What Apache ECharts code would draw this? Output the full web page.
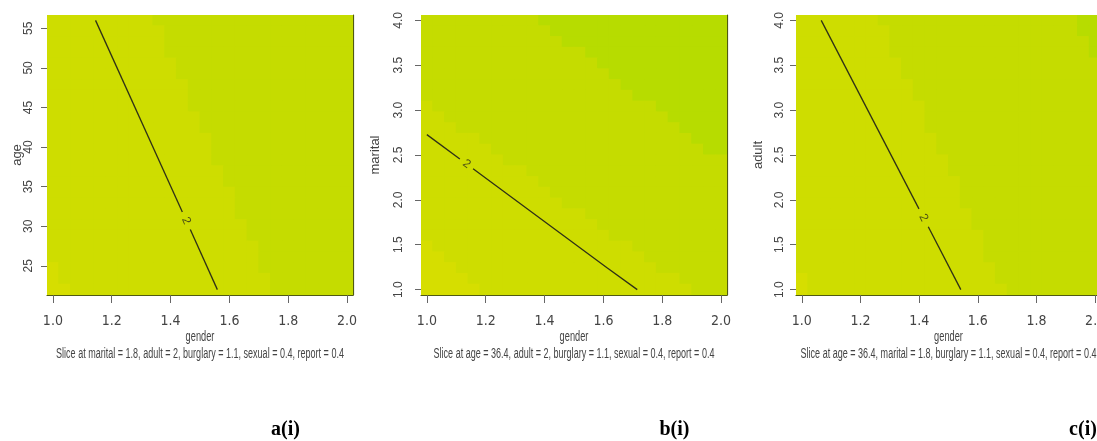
<!DOCTYPE html>
<html>
<head>
<meta charset="utf-8">
<script src="https://cdn.jsdelivr.net/npm/echarts@6/dist/echarts.min.js"></script>
<style>
  html, body { margin: 0; padding: 0; background: #ffffff; }
  #chart { width: 1097px; height: 441px; }
</style>
</head>
<body>
<div id="chart"></div>
<script>
// ---- tick labels ----
const genderTicks  = [1.0, 1.2, 1.4, 1.6, 1.8, 2.0];
const ageTicks     = [25, 30, 35, 40, 45, 50, 55];
const maritalTicks = [1.0, 1.5, 2.0, 2.5, 3.0, 3.5, 4.0];
const adultTicks   = [1.0, 1.5, 2.0, 2.5, 3.0, 3.5, 4.0];

// ---- evaluation grid (cell centres) ----
const genderGrid  = [1.00, 1.04, 1.08, 1.12, 1.16, 1.20, 1.24, 1.28, 1.32, 1.36, 1.40, 1.44, 1.48,
                     1.52, 1.56, 1.60, 1.64, 1.68, 1.72, 1.76, 1.80, 1.84, 1.88, 1.92, 1.96, 2.00];
const ageGrid     = [22, 23.36, 24.72, 26.08, 27.44, 28.8, 30.16, 31.52, 32.88, 34.24, 35.6, 36.96, 38.32,
                     39.68, 41.04, 42.4, 43.76, 45.12, 46.48, 47.84, 49.2, 50.56, 51.92, 53.28, 54.64, 56];
const maritalGrid = [1, 1.12, 1.24, 1.36, 1.48, 1.6, 1.72, 1.84, 1.96, 2.08, 2.2, 2.32, 2.44,
                     2.56, 2.68, 2.8, 2.92, 3.04, 3.16, 3.28, 3.4, 3.52, 3.64, 3.76, 3.88, 4];
const adultGrid   = [1, 1.12, 1.24, 1.36, 1.48, 1.6, 1.72, 1.84, 1.96, 2.08, 2.2, 2.32, 2.44,
                     2.56, 2.68, 2.8, 2.92, 3.04, 3.16, 3.28, 3.4, 3.52, 3.64, 3.76, 3.88, 4];

// ---- predicted-response colour bands, one row per grid line (top row first).
// Each row lists how many cells fall in band 0,1,2,3 going left to right. ----
const ageBands = [
  [0, 9, 17, 0], [0, 10, 16, 0], [0, 10, 16, 0], [0, 10, 16, 0], [0, 11, 15, 0], [0, 11, 15, 0],
  [0, 12, 14, 0], [0, 12, 14, 0], [0, 12, 14, 0], [0, 13, 13, 0], [0, 13, 13, 0], [0, 14, 12, 0],
  [0, 14, 12, 0], [0, 14, 12, 0], [0, 15, 11, 0], [0, 15, 11, 0], [0, 16, 10, 0], [0, 16, 10, 0],
  [0, 16, 10, 0], [0, 17, 9, 0], [0, 17, 9, 0], [0, 18, 8, 0], [0, 18, 8, 0], [1, 17, 8, 0],
  [1, 18, 7, 0], [2, 17, 7, 0]
];
const maritalBands = [
  [0, 0, 10, 16], [0, 0, 11, 15], [0, 0, 12, 14], [0, 0, 14, 12], [0, 0, 15, 11], [0, 0, 16, 10],
  [0, 0, 17, 9], [0, 0, 18, 8], [0, 1, 19, 6], [0, 2, 19, 5], [0, 3, 19, 4], [0, 5, 18, 3],
  [0, 6, 18, 2], [0, 7, 19, 0], [0, 9, 17, 0], [0, 10, 16, 0], [0, 11, 15, 0], [0, 12, 14, 0],
  [0, 14, 12, 0], [0, 15, 11, 0], [0, 16, 10, 0], [1, 17, 8, 0], [2, 17, 7, 0], [3, 17, 6, 0],
  [4, 18, 4, 0], [5, 18, 3, 0]
];
const adultBands = [
  [0, 7, 17, 2], [0, 8, 16, 2], [0, 8, 17, 1], [0, 8, 17, 1], [0, 9, 17, 0], [0, 9, 17, 0],
  [0, 10, 16, 0], [0, 10, 16, 0], [0, 11, 15, 0], [0, 11, 15, 0], [0, 11, 15, 0], [0, 12, 14, 0],
  [0, 12, 14, 0], [0, 13, 13, 0], [0, 13, 13, 0], [0, 14, 12, 0], [0, 14, 12, 0], [0, 14, 12, 0],
  [0, 15, 11, 0], [0, 15, 11, 0], [0, 16, 10, 0], [0, 16, 10, 0], [0, 16, 10, 0], [0, 17, 9, 0],
  [1, 16, 9, 0], [1, 17, 8, 0]
];

// ---- contour of level 2 (split where the inline label sits) ----
const contourLevel = 2;
const ageContour     = [[[1.145, 56], [1.44, 31.8]], [[1.467, 29.6], [1.559, 22]]];
const ageContourLabel = [1.453, 30.7];
const maritalContour = [[[1.0, 2.727], [1.112, 2.456]], [[1.157, 2.347], [1.35, 1.879], [1.611, 1.246], [1.715, 1.0]]];
const maritalContourLabel = [1.135, 2.40];
const adultContour   = [[[1.066, 4.0], [1.3993, 1.90]], [[1.431, 1.70], [1.542, 1.0]]];
const adultContourLabel = [1.415, 1.80];

// ---- captions ----
const yNames = ['age', 'marital', 'adult'];
const xName = 'gender';
const captions = [
  'Slice at marital = 1.8, adult = 2, burglary = 1.1, sexual = 0.4, report = 0.4',
  'Slice at age = 36.4, adult = 2, burglary = 1.1, sexual = 0.4, report = 0.4',
  'Slice at age = 36.4, marital = 1.8, burglary = 1.1, sexual = 0.4, report = 0.4'
];
const panelTags = ['a(i)', 'b(i)', 'c(i)'];

// ---- styling ----
const bandColors = ['#d6de00', '#cedd00', '#c5dc00', '#b7dc00'];
const frameColor = '#4f5a12';
const tickColor = '#666666';
const textColor = '#444444';
const narrowFont = "'Liberation Sans Narrow', 'DejaVu Sans Condensed', 'Liberation Sans', sans-serif";

const panels = [
  { left: 47,  top: 15, width: 306, height: 280, ys: ageGrid,     bands: ageBands,     ticks: ageTicks,
    ymin: 21.32, ymax: 56.68, fmt: v => String(v), contour: ageContour, label: ageContourLabel, rot: -66,
    labelMargin: 12, nameGap: 23, cx: 200 },
  { left: 421, top: 15, width: 306, height: 280, ys: maritalGrid, bands: maritalBands, ticks: maritalTicks,
    ymin: 0.94, ymax: 4.06, fmt: v => v.toFixed(1), contour: maritalContour, label: maritalContourLabel, rot: -36,
    labelMargin: 16, nameGap: 39, cx: 574 },
  { left: 796, top: 15, width: 305, height: 280, ys: adultGrid,   bands: adultBands,   ticks: adultTicks,
    ymin: 0.94, ymax: 4.06, fmt: v => v.toFixed(1), contour: adultContour, label: adultContourLabel, rot: -63,
    labelMargin: 10, nameGap: 31, cx: 948.5 }
];

function cellData(xs, ys, bands) {
  const out = [];
  bands.forEach((row, r) => {
    const j = ys.length - 1 - r;
    let i = 0;
    row.forEach((n, b) => {
      for (let k = 0; k < n; k++) { out.push([xs[i], ys[j], b]); i++; }
    });
  });
  return out;
}

const grids = [], xAxes = [], yAxes = [], series = [], graphics = [];

panels.forEach((p, g) => {
  grids.push({ left: p.left, top: p.top, width: p.width, height: p.height,
               containLabel: false, outerBoundsMode: 'none' });

  xAxes.push({
    type: 'value', gridIndex: g, min: 0.98, max: 2.02,
    axisLine: { show: true, onZero: false, lineStyle: { color: frameColor, width: 1.2 } },
    axisTick: { show: true, customValues: genderTicks, length: 8, lineStyle: { color: tickColor } },
    axisLabel: { customValues: genderTicks, formatter: v => v.toFixed(1), margin: 19,
                 fontFamily: narrowFont, fontSize: 14, color: textColor },
    splitLine: { show: false }
  });

  yAxes.push({
    type: 'value', gridIndex: g, min: p.ymin, max: p.ymax, position: 'left',
    name: yNames[g], nameLocation: 'middle', nameGap: p.nameGap, nameMoveOverlap: false,
    nameTextStyle: { fontFamily: "'Liberation Sans', sans-serif", fontSize: 13, color: textColor },
    axisLine: { show: false, onZero: false },
    axisTick: { show: true, customValues: p.ticks, length: 6, lineStyle: { color: tickColor } },
    axisLabel: { customValues: p.ticks, formatter: p.fmt, rotate: 90, margin: p.labelMargin,
                 fontFamily: "'Liberation Sans', sans-serif", fontSize: 12, color: textColor },
    splitLine: { show: false }
  });
  yAxes.push({
    type: 'value', gridIndex: g, min: p.ymin, max: p.ymax, position: 'right',
    axisLine: { show: true, onZero: false, lineStyle: { color: frameColor, width: 1.2 } },
    axisTick: { show: false }, axisLabel: { show: false }, splitLine: { show: false }
  });

  const hx = (genderGrid[1] - genderGrid[0]) / 2;
  const hy = (p.ys[1] - p.ys[0]) / 2;
  series.push({
    type: 'custom', xAxisIndex: g, yAxisIndex: g * 2, z: 1, silent: true, clip: true,
    encode: { x: 0, y: 1 },
    data: cellData(genderGrid, p.ys, p.bands),
    renderItem: (params, api) => {
      const x = api.value(0), y = api.value(1);
      const a = api.coord([x - hx, y + hy]);
      const b = api.coord([x + hx, y - hy]);
      const x0 = Math.min(a[0], b[0]), x1 = Math.max(a[0], b[0]);
      const y0 = Math.min(a[1], b[1]), y1 = Math.max(a[1], b[1]);
      return {
        type: 'rect',
        shape: { x: x0 - 0.5, y: y0 - 0.5, width: x1 - x0 + 1, height: y1 - y0 + 1 },
        style: { fill: bandColors[api.value(2)], stroke: null }
      };
    }
  });

  p.contour.forEach(seg => {
    series.push({
      type: 'line', xAxisIndex: g, yAxisIndex: g * 2, z: 3, silent: true,
      data: seg, showSymbol: false, symbol: 'none',
      lineStyle: { color: '#2f3116', width: 1.3 }
    });
  });

  series.push({
    type: 'scatter', xAxisIndex: g, yAxisIndex: g * 2, z: 4, silent: true,
    data: [p.label], symbolSize: 0, itemStyle: { color: 'rgba(0,0,0,0)' },
    label: { show: true, position: 'inside', formatter: String(contourLevel), rotate: p.rot,
             fontFamily: "'Liberation Sans', sans-serif", fontSize: 12, color: '#2e3018' }
  });

  graphics.push({
    type: 'text', x: p.cx, y: 337, scaleX: 0.66, silent: true,
    style: { text: xName, font: "14px 'Liberation Sans', sans-serif", fill: textColor,
             align: 'center', verticalAlign: 'middle' }
  });
  graphics.push({
    type: 'text', x: p.cx, y: 354, scaleX: 0.645, silent: true,
    style: { text: captions[g], font: "14px 'Liberation Sans', sans-serif", fill: textColor,
             align: 'center', verticalAlign: 'middle' }
  });
});

const tagX = [285.5, 674.5, 1083];
panelTags.forEach((t, k) => {
  graphics.push({
    type: 'text', x: tagX[k], y: 430, silent: true,
    style: { text: t, font: "bold 20px 'Liberation Serif', serif", fill: '#000000',
             align: 'center', verticalAlign: 'middle' }
  });
});

const chart = echarts.init(document.getElementById('chart'), null, { renderer: 'canvas' });
chart.setOption({
  animation: false,
  backgroundColor: '#ffffff',
  grid: grids,
  xAxis: xAxes,
  yAxis: yAxes,
  series: series,
  graphic: graphics
});
</script>
</body>
</html>
